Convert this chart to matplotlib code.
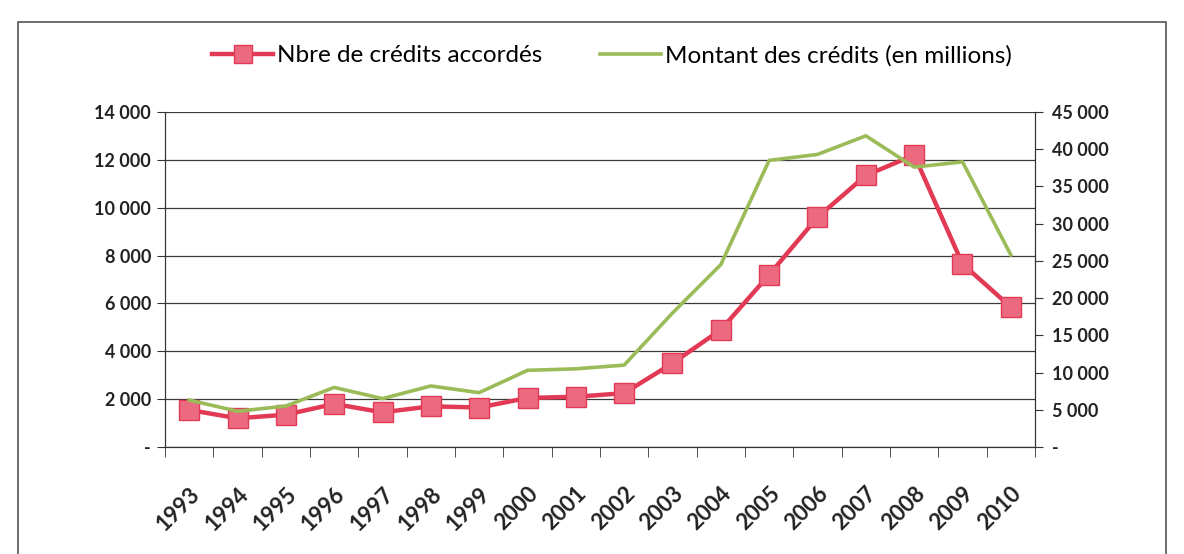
import matplotlib
matplotlib.use("Agg")
import matplotlib.pyplot as plt
from matplotlib.ticker import FuncFormatter, FixedLocator
from matplotlib.patches import Rectangle
from matplotlib.lines import Line2D

plt.rcParams["font.family"] = ["Lato", "DejaVu Sans"]

years = [str(y) for y in range(1993, 2011)]
nb_credits = [1550, 1200, 1350, 1800, 1450, 1700, 1650, 2050, 2100, 2250,
              3500, 4900, 7200, 9600, 11350, 12200, 7650, 5850]
montant = [6300, 4800, 5500, 8000, 6500, 8200, 7300, 10300, 10500, 11000,
           18000, 24500, 38500, 39300, 41800, 37600, 38300, 25800]

red = "#e23a55"
red_face = "#ec6a80"
green = "#9bbb59"


def fmt(v, _):
    if abs(v) < 1e-9:
        return "-"
    return f"{int(round(v)):,}".replace(",", " ")


fig = plt.figure(figsize=(11.84, 5.54), dpi=100)
ax = fig.add_axes([165 / 1184, 1 - 447 / 554, 870 / 1184, 335 / 554])
ax2 = ax.twinx()

x = list(range(len(years)))
ax.plot(x, nb_credits, color=red, lw=3.2, marker="s", ms=14,
        mfc=red_face, mec=red, mew=1, zorder=3)
ax2.plot(x, montant, color=green, lw=2.6, zorder=2)

ax.set_xlim(-0.5, len(years) - 0.5)
ax.set_ylim(0, 14000)
ax2.set_ylim(0, 45000)
ax.set_yticks(range(0, 14001, 2000))
ax2.set_yticks(range(0, 45001, 5000))
ax.yaxis.set_major_formatter(FuncFormatter(fmt))
ax2.yaxis.set_major_formatter(FuncFormatter(fmt))

ax.set_xticks(x)
ax.set_xticklabels(years, rotation=45, ha="right", rotation_mode="anchor",
                   fontsize=16, fontweight="bold", color="#222222")
ax.xaxis.set_minor_locator(FixedLocator([i - 0.5 for i in range(len(years) + 1)]))
ax.tick_params(axis="x", which="major", length=0, pad=26)
ax.tick_params(axis="x", which="minor", length=7, direction="out", color="#333333")
ax.tick_params(axis="y", length=6, direction="out", labelsize=13, pad=4,
               color="#333333", labelcolor="#222222")
ax2.tick_params(axis="y", length=6, direction="out", labelsize=13, pad=6,
                color="#333333", labelcolor="#222222")
for lab in ax.get_yticklabels() + ax2.get_yticklabels():
    lab.set_fontweight("bold")

ax.grid(axis="y", color="#3a3a3a", lw=0.9)
ax.set_axisbelow(True)
for a in (ax, ax2):
    a.spines["top"].set_visible(False)
    a.spines["left"].set_color("#333333")
    a.spines["right"].set_color("#333333")
    a.spines["bottom"].set_color("#333333")

handles = [
    Line2D([], [], color=red, lw=3.2, marker="s", ms=13, mfc=red_face, mec=red),
    Line2D([], [], color=green, lw=2.6),
]
fig.legend(handles, ["Nbre de crédits accordés", "Montant des crédits (en millions)"],
           loc="center", bbox_to_anchor=(0.517, 0.9), ncol=2, frameon=False,
           fontsize=17.5, handlelength=2.5, handletextpad=0.15, columnspacing=2.4)

# chart area border (as in the scanned Excel chart)
fig.patches.append(Rectangle((18 / 1184, -0.05), 1148 / 1184, 1.05 - 22 / 554,
                             transform=fig.transFigure, fill=False,
                             ec="#555555", lw=1.2))

fig.savefig("out.png", dpi=100)
